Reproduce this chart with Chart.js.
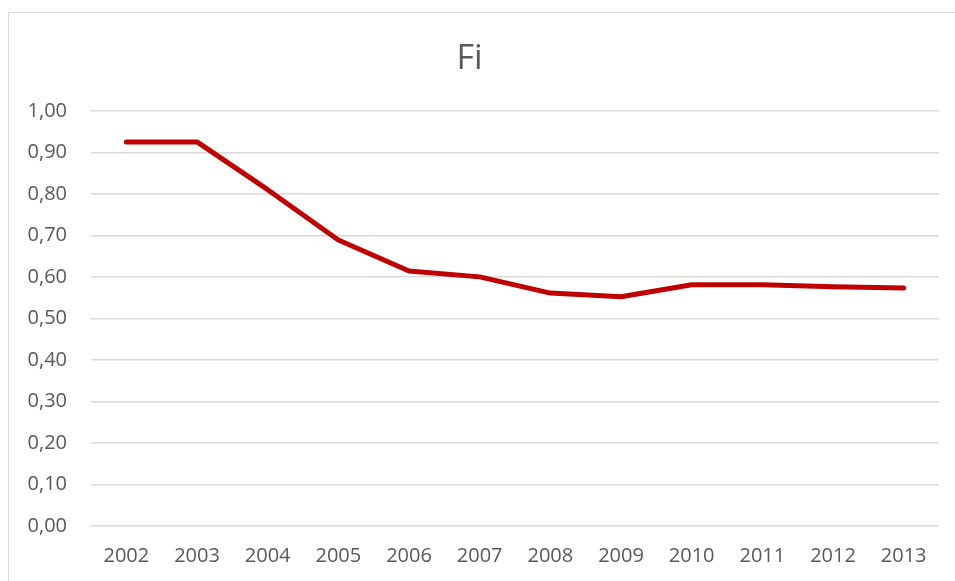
<!DOCTYPE html>
<html>
<head>
<meta charset="utf-8">
<script src="https://cdn.jsdelivr.net/npm/chart.js@4.4.1/dist/chart.umd.min.js"></script>
<style>
  html, body { margin: 0; padding: 0; background: #fff; overflow: hidden; }
  #frame { position: absolute; left: 8px; top: 12px; width: 1000px; height: 1000px; border: 1px solid #d9d9d9; }
  #wrap { position: absolute; left: 0; top: 0; width: 955px; height: 581px; }
</style>
</head>
<body>
<div id="frame"></div>
<div id="wrap"><canvas id="fiChart" width="955" height="581"></canvas></div>
<script>
// Fi per year
const years = ['2002', '2003', '2004', '2005', '2006', '2007', '2008', '2009', '2010', '2011', '2012', '2013'];
const fiValues = [0.925, 0.925, 0.810, 0.689, 0.614, 0.600, 0.561, 0.552, 0.581, 0.581, 0.576, 0.573];
const yTicks = [0, 0.1, 0.2, 0.3, 0.4, 0.5, 0.6, 0.7, 0.8, 0.9, 1.0];

const textColor = '#595959';
const fontFamily = '"Open Sans", "Liberation Sans", sans-serif';

const ctx = document.getElementById('fiChart').getContext('2d');
const fiChart = new Chart(ctx, {
    type: 'line',
    data: {
        labels: years,
        datasets: [{
            label: 'Fi',
            data: fiValues,
            borderColor: '#c00000',
            borderWidth: 5,
            borderCapStyle: 'round',
            borderJoinStyle: 'round',
            pointRadius: 0,
            tension: 0,
            fill: false
        }]
    },
    options: {
        responsive: false,
        animation: false,
        layout: { padding: { left: 0, right: 16, top: 39, bottom: 13 } },
        plugins: {
            legend: { display: false },
            tooltip: { enabled: false },
            title: {
                display: true,
                text: 'Fi',
                color: textColor,
                font: { family: fontFamily, size: 34, weight: 'normal' },
                padding: { top: 0, bottom: 31 }
            }
        },
        scales: {
            x: {
                offset: true,
                grid: { display: false },
                border: { display: false },
                afterFit: scale => { scale.height = 42; },
                ticks: {
                    color: textColor,
                    font: { family: fontFamily, size: 20 },
                    padding: 10,
                    maxRotation: 0
                }
            },
            y: {
                min: 0,
                max: 1,
                afterBuildTicks: scale => { scale.ticks = yTicks.map(v => ({ value: v })); },
                afterFit: scale => { scale.width = 91; },
                grid: { color: '#d9d9d9', lineWidth: 1.5, drawTicks: false },
                border: { display: false },
                ticks: {
                    color: textColor,
                    font: { family: fontFamily, size: 20 },
                    padding: 24,
                    callback: v => v.toFixed(2).replace('.', ',')
                }
            }
        }
    }
});
</script>
</body>
</html>
